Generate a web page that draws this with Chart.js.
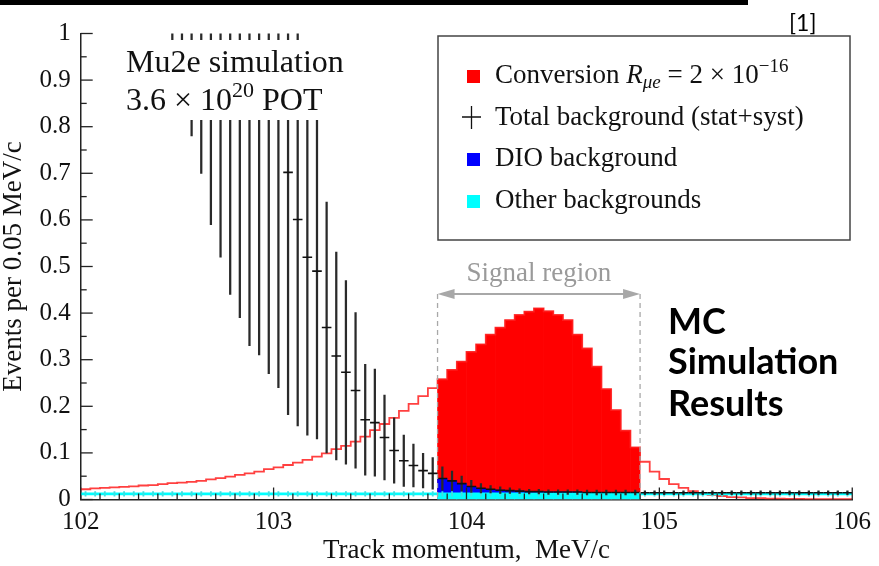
<!DOCTYPE html>
<html><head><meta charset="utf-8">
<script src="https://cdn.jsdelivr.net/npm/chart.js@4.4.0/dist/chart.umd.min.js"></script>
<style>html,body{margin:0;padding:0;background:#fff;}canvas{display:block;}</style>
</head><body>
<canvas id="c" width="879" height="566"></canvas>
<script>
// ---- data (bin centres of 0.05 MeV/c bins) ----
const momentum = [
 102.025,102.075,102.125,102.175,102.225,102.275,102.325,102.375,102.425,102.475,
 102.525,102.575,102.625,102.675,102.725,102.775,102.825,102.875,102.925,102.975,
 103.025,103.075,103.125,103.175,103.225,103.275,103.325,103.375,103.425,103.475,
 103.525,103.575,103.625,103.675,103.725,103.775,103.825,103.875,103.925,103.975,
 104.025,104.075,104.125,104.175,104.225,104.275,104.325,104.375,104.425,104.475,
 104.525,104.575,104.625,104.675,104.725,104.775,104.825,104.875,104.925,104.975,
 105.025,105.075,105.125,105.175,105.225,105.275,105.325,105.375,105.425,105.475,
 105.525,105.575,105.625,105.675,105.725,105.775,105.825,105.875,105.925,105.975];
const conversion = [
 0.022,0.024,0.025,0.026,0.027,0.028,0.030,0.031,0.033,0.035,
 0.036,0.038,0.040,0.043,0.046,0.049,0.053,0.056,0.060,0.065,
 0.069,0.074,0.079,0.085,0.092,0.099,0.108,0.115,0.124,0.135,
 0.149,0.162,0.175,0.190,0.205,0.222,0.239,0.258,0.278,0.296,
 0.317,0.333,0.354,0.369,0.385,0.396,0.403,0.410,0.404,0.396,
 0.385,0.354,0.324,0.285,0.237,0.192,0.148,0.112,0.081,0.060,
 0.044,0.033,0.025,0.018,0.013,0.010,0.0075,0.005,0.0045,0.003,
 0.003,0.002,0.002,0.0015,0.0015,0.001,0.001,0.001,0.001,0.001];
const totalBkg = [
 null,null,null,null,null,null,null,null,null,3.5,
 3.2,2.9,2.6,2.2,1.95,1.65,1.45,1.25,1.15,1.05,
 0.89,0.702,0.601,0.520,0.490,0.369,0.308,0.273,0.234,0.171,
 0.165,0.133,0.105,0.083,0.073,0.062,0.056,0.045,0.040,0.034,
 0.028,0.024,0.022,0.020,0.019,0.018,0.017,0.017,0.016,0.016,
 0.016,0.016,0.015,0.015,0.015,0.015,0.015,0.015,0.0146,0.0146,
 0.0146,0.0146,0.0146,0.0146,0.0146,0.0146,0.0146,0.0146,0.0146,0.0146,
 0.0146,0.0146,0.0146,0.0146,0.0146,0.0146,0.0146,0.0146,0.0146,0.0146];
const totalErr = [
 null,null,null,null,null,null,null,null,null,2.55,
 2.34,2.12,1.90,1.61,1.43,1.21,1.06,0.92,0.84,0.78,
 0.65,0.52,0.443,0.382,0.360,0.269,0.223,0.197,0.167,0.119,
 0.115,0.091,0.070,0.055,0.046,0.037,0.034,0.025,0.021,0.016,
 0.013,0.010,0.008,0.007,0.006,0.005,0.005,0.005,0.005,0.005,
 0.005,0.005,0.005,0.005,0.005,0.005,0.005,0.005,0.004,0.004,
 0.004,0.004,0.004,0.004,0.004,0.004,0.004,0.004,0.004,0.004,
 0.004,0.004,0.004,0.004,0.004,0.004,0.004,0.004,0.004,0.004];
const otherBkg = [
 0.012,0.012,0.012,0.012,0.012,0.012,0.012,0.012,0.012,0.012,
 0.012,0.012,0.012,0.012,0.012,0.012,0.012,0.012,0.012,0.012,
 0.012,0.012,0.012,0.012,0.012,0.012,0.012,0.012,0.012,0.012,
 0.012,0.012,0.012,0.012,0.012,0.012,0.012,0.012,0.012,0.012,
 0.012,0.012,0.012,0.012,0.012,0.012,0.012,0.012,0.012,0.012,
 0.012,0.012,0.012,0.012,0.012,0.012,0.012,0.012,0.012,0.012,
 0.012,0.012,0.012,0.012,0.012,0.012,0.012,0.012,0.012,0.012,
 0.012,0.012,0.012,0.012,0.012,0.012,0.012,0.012,0.012,0.012];
const otherErr = 0.005;
const signalRegion = [103.85, 104.9];
const binHalfWidth = 0.025;
const xTickLabels = ['102','103','104','105','106'];
const yTickLabels = ['0','0.1','0.2','0.3','0.4','0.5','0.6','0.7','0.8','0.9','1'];

// ---- datasets built from the arrays ----
const inSignal = i => momentum[i] > signalRegion[0] && momentum[i] < signalRegion[1];
const idx = momentum.map((m, i) => i);
const sigIdx = idx.filter(inSignal);
const stepPts = arr => idx.map(i => ({x: momentum[i] - binHalfWidth, y: arr[i]}))
  .concat([{x: momentum[momentum.length - 1] + binHalfWidth, y: arr[arr.length - 1]}]);
const bkgIdx = idx.filter(i => totalBkg[i] !== null);

const SERIF = "'Liberation Serif'";
Chart.defaults.font.family = SERIF;

const decor = {
  id: 'decor',
  afterDatasetsDraw(chart) {
    const {ctx, chartArea: ca, scales: {x, y}} = chart;
    ctx.save();
    // white text box hiding the clipped error bars
    ctx.fillStyle = '#fff';
    ctx.fillRect(112, 40, 250, 80);
    ctx.fillStyle = '#111';
    ctx.textBaseline = 'alphabetic';
    ctx.font = '32px ' + SERIF;
    ctx.fillText('Mu2e simulation', 126, 72);
    let tx = 126;
    const put = (t, f, dy) => { ctx.font = f; ctx.fillText(t, tx, 110 + (dy || 0)); tx += ctx.measureText(t).width; };
    put('3.6 \u00d7 10', '32px ' + SERIF);
    put('20', '22px ' + SERIF, -13);
    put(' POT', '32px ' + SERIF);

    // signal region markers
    const xl = x.getPixelForValue(signalRegion[0]);
    const xr = x.getPixelForValue(signalRegion[1]);
    const ay = 294;
    ctx.strokeStyle = '#a8a8a8';
    ctx.lineWidth = 1.3;
    ctx.setLineDash([5, 4]);
    [xl, xr].forEach(px => { ctx.beginPath(); ctx.moveTo(px, ay); ctx.lineTo(px, ca.bottom); ctx.stroke(); });
    ctx.setLineDash([]);
    ctx.lineWidth = 2;
    ctx.beginPath(); ctx.moveTo(xl + 6, ay); ctx.lineTo(xr - 6, ay); ctx.stroke();
    ctx.fillStyle = '#a8a8a8';
    ctx.beginPath(); ctx.moveTo(xl, ay); ctx.lineTo(xl + 17, ay - 5); ctx.lineTo(xl + 17, ay + 5); ctx.closePath(); ctx.fill();
    ctx.beginPath(); ctx.moveTo(xr, ay); ctx.lineTo(xr - 17, ay - 5); ctx.lineTo(xr - 17, ay + 5); ctx.closePath(); ctx.fill();
    ctx.fillStyle = '#9a9a9a';
    ctx.font = '27px ' + SERIF;
    ctx.textAlign = 'center';
    ctx.fillText('Signal region', (xl + xr) / 2, 281);
    ctx.textAlign = 'left';

    // inward axis ticks
    ctx.strokeStyle = '#222';
    ctx.lineWidth = 1.3;
    for (let k = 0; k <= 40; k++) {
      const v = x.min + k * (x.max - x.min) / 40;
      const px = x.getPixelForValue(v);
      const len = k % 10 === 0 ? 12 : 6;
      ctx.beginPath(); ctx.moveTo(px, ca.bottom); ctx.lineTo(px, ca.bottom - len); ctx.stroke();
    }
    for (let k = 0; k <= 20; k++) {
      const v = y.min + k * (y.max - y.min) / 20;
      const py = y.getPixelForValue(v);
      const len = k % 2 === 0 ? 12 : 6;
      ctx.beginPath(); ctx.moveTo(ca.left, py); ctx.lineTo(ca.left + len, py); ctx.stroke();
    }

    // legend
    ctx.strokeStyle = '#444';
    ctx.lineWidth = 1.5;
    ctx.strokeRect(438, 36, 412, 204);
    ctx.fillStyle = '#ff0000'; ctx.fillRect(467, 70, 13, 13);
    ctx.fillStyle = '#0000ff'; ctx.fillRect(467, 153, 13, 13);
    ctx.fillStyle = '#00ffff'; ctx.fillRect(467, 195, 13, 13);
    ctx.strokeStyle = '#111'; ctx.lineWidth = 1.3;
    ctx.beginPath(); ctx.moveTo(462, 117); ctx.lineTo(481, 117); ctx.moveTo(471.5, 106); ctx.lineTo(471.5, 129); ctx.stroke();
    ctx.fillStyle = '#111';
    tx = 495;
    const put2 = (t, f, by) => { ctx.font = f; ctx.fillText(t, tx, by); tx += ctx.measureText(t).width; };
    put2('Conversion ', '27px ' + SERIF, 83);
    put2('R', 'italic 27px ' + SERIF, 83);
    put2('\u03bce', 'italic 19px ' + SERIF, 88);
    put2(' = 2 \u00d7 10', '27px ' + SERIF, 83);
    put2('\u221216', '19px ' + SERIF, 72);
    ctx.font = '27px ' + SERIF;
    ctx.fillText('Total background (stat+syst)', 495, 125);
    ctx.fillText('DIO background', 495, 166);
    ctx.fillText('Other backgrounds', 495, 208);

    // annotation on the right
    ctx.font = "bold 36px Lato, 'Open Sans', sans-serif";
    ctx.fillStyle = '#000';
    ctx.fillText('MC', 668, 334);
    ctx.fillText('Simulation', 668, 374);
    ctx.fillText('Results', 668, 416);

    // page decorations
    ctx.fillRect(0, 0, 748, 5);
    ctx.font = "23px Lato, 'Liberation Sans', sans-serif";
    ctx.fillText('[1]', 789, 31);
    ctx.restore();
  }
};

new Chart(document.getElementById('c'), {
  type: 'bar',
  data: {
    datasets: [
      { // black central values
        type: 'line', label: 'Total background', order: 1, clip: 0,
        data: bkgIdx.map(i => ({x: momentum[i], y: totalBkg[i]})),
        showLine: false, pointStyle: 'line', pointRadius: 4.8, pointHoverRadius: 4.8,
        pointBorderWidth: 1.6, pointBorderColor: '#111', pointBackgroundColor: '#111'
      },
      { // black error bars
        label: 'Total background errors', order: 2, grouped: false,
        data: bkgIdx.map(i => ({x: momentum[i], y: [totalBkg[i] - totalErr[i], totalBkg[i] + totalErr[i]]})),
        backgroundColor: '#2a2a2a', barThickness: 1.6, maxBarThickness: 1.6, borderWidth: 0
      },
      { // cyan error ticks
        label: 'Other errors', order: 3, grouped: false,
        data: idx.map(i => ({x: momentum[i], y: [otherBkg[i] - otherErr, otherBkg[i] + otherErr]})),
        backgroundColor: '#3fe0e0', barThickness: 1.2, maxBarThickness: 1.2, borderWidth: 0
      },
      { // cyan histogram line
        type: 'line', label: 'Other line', order: 4, stepped: 'before',
        data: stepPts(otherBkg), borderColor: '#00ffff', borderWidth: 2.6, pointRadius: 0, fill: false
      },
      { // red conversion outline
        type: 'line', label: 'Conversion line', order: 5, stepped: 'before',
        data: stepPts(conversion), borderColor: 'rgba(255,30,30,0.85)', borderWidth: 1.8, pointRadius: 0, fill: false
      },
      { // cyan fill (signal region)
        label: 'Other backgrounds', order: 8, grouped: false,
        data: sigIdx.map(i => ({x: momentum[i], y: otherBkg[i]})),
        backgroundColor: '#00ffff', barPercentage: 1, categoryPercentage: 1, borderWidth: 0
      },
      { // DIO fill (signal region), between other and total
        label: 'DIO background', order: 9, grouped: false,
        data: sigIdx.map(i => ({x: momentum[i], y: [otherBkg[i], totalBkg[i]]})),
        backgroundColor: '#0000ff', barPercentage: 1, categoryPercentage: 1, borderWidth: 0
      },
      { // conversion fill (signal region)
        label: 'Conversion', order: 10, grouped: false,
        data: sigIdx.map(i => ({x: momentum[i], y: conversion[i]})),
        backgroundColor: '#ff0000', barPercentage: 1, categoryPercentage: 1, borderWidth: 0
      }
    ]
  },
  options: {
    responsive: false, animation: false, devicePixelRatio: 1, events: [],
    layout: {padding: {top: 33.5, right: 26.3, left: 0, bottom: 0}},
    plugins: {legend: {display: false}, tooltip: {enabled: false}},
    scales: {
      x: {
        type: 'linear', min: 102, max: 106, offset: false,
        afterFit: s => { s.height = 66.5; },
        grid: {display: false, drawTicks: false},
        border: {display: true, color: '#222', width: 1.5},
        ticks: {stepSize: 1, autoSkip: false, maxRotation: 0, padding: 8, color: '#111',
          font: {size: 25, family: SERIF},
          callback: v => xTickLabels[Math.round(v - 102)]},
        title: {display: true, text: 'Track momentum,  MeV/c', color: '#111',
          font: {size: 27, family: SERIF, lineHeight: 1}, padding: {top: 0, bottom: 2}}
      },
      y: {
        type: 'linear', min: 0, max: 1,
        afterFit: s => { s.width = 80.7; },
        grid: {display: false, drawTicks: false},
        border: {display: true, color: '#222', width: 1.5},
        ticks: {stepSize: 0.1, padding: 10, color: '#111', font: {size: 25, family: SERIF},
          callback: v => yTickLabels[Math.round(v * 10)]},
        title: {display: true, text: 'Events per 0.05 MeV/c', color: '#111',
          font: {size: 27, family: SERIF, lineHeight: 1}, padding: {top: 0, bottom: 0}}
      }
    }
  },
  plugins: [decor]
});
</script>
</body></html>
